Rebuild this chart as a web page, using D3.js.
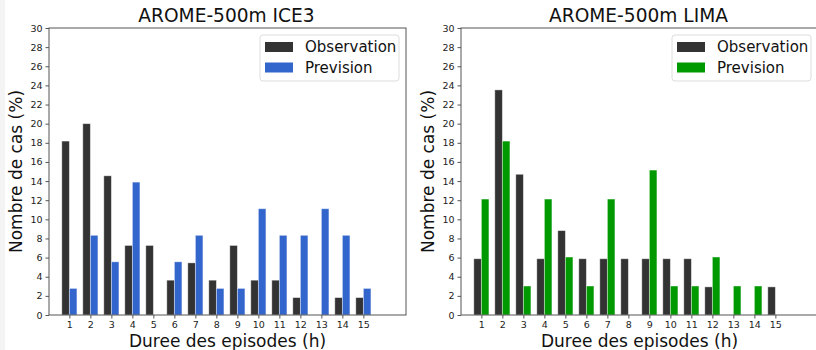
<!DOCTYPE html>
<html>
<head>
<meta charset="utf-8">
<script src="https://cdn.jsdelivr.net/npm/d3@7"></script>
<style>
  body { margin: 0; background: #fff; }
  svg { display: block; font-family: "DejaVu Sans", sans-serif; }
</style>
</head>
<body>
<svg id="chart" width="816" height="350"></svg>
<script>
// --- data ---
const durations = [1, 2, 3, 4, 5, 6, 7, 8, 9, 10, 11, 12, 13, 14, 15];
const yTicks = [0, 2, 4, 6, 8, 10, 12, 14, 16, 18, 20, 22, 24, 26, 28, 30];

const obsIce3 = [18.18, 20.0, 14.55, 7.27, 7.27, 3.64, 5.45, 3.64, 7.27, 3.64, 3.64, 1.82, 0, 1.82, 1.82];
const prevIce3 = [2.78, 8.33, 5.56, 13.89, 0, 5.56, 8.33, 2.78, 2.78, 11.11, 8.33, 8.33, 11.11, 8.33, 2.78];

const obsLima = [5.88, 23.53, 14.71, 5.88, 8.82, 5.88, 5.88, 5.88, 5.88, 5.88, 5.88, 2.94, 0, 0, 2.94];
const prevLima = [12.12, 18.18, 3.03, 12.12, 6.06, 3.03, 12.12, 0, 15.15, 3.03, 3.03, 6.06, 3.03, 3.03, 0];

const panels = [
    { title: 'AROME-500m ICE3', obs: obsIce3, prev: prevIce3, color: '#3366cc', left: 49 },
    { title: 'AROME-500m LIMA', obs: obsLima, prev: prevLima, color: '#009900', left: 461 }
];

const svg = d3.select('#chart');
// thin grey strip at the far left of the figure
svg.append('rect').attr('x', 0).attr('y', 0).attr('width', 5).attr('height', 350).attr('fill', '#f4f4f4');

const plotW = 357, plotTop = 28, plotBottom = 315;
const barW = 0.36;

panels.forEach(p => {
    const g = svg.append('g');
    const x = d3.scaleLinear().domain([0.03, 17.03]).range([p.left, p.left + plotW]);
    const y = d3.scaleLinear().domain([0, 30]).range([plotBottom, plotTop]);

    // bars
    g.append('g').selectAll('rect')
        .data(durations.map((d, i) => ({ d, v: p.obs[i] })).filter(e => e.v > 0))
        .join('rect')
        .attr('x', e => x(e.d - barW))
        .attr('width', e => x(e.d) - x(e.d - barW))
        .attr('y', e => y(e.v))
        .attr('height', e => y(0) - y(e.v))
        .attr('fill', '#333333')
        .attr('stroke', '#ffffff').attr('stroke-opacity', 0.5).attr('stroke-width', 0.8);

    g.append('g').selectAll('rect')
        .data(durations.map((d, i) => ({ d, v: p.prev[i] })).filter(e => e.v > 0))
        .join('rect')
        .attr('x', e => x(e.d))
        .attr('width', e => x(e.d + barW) - x(e.d))
        .attr('y', e => y(e.v))
        .attr('height', e => y(0) - y(e.v))
        .attr('fill', p.color)
        .attr('stroke', '#ffffff').attr('stroke-opacity', 0.5).attr('stroke-width', 0.8);

    // frame
    g.append('rect')
        .attr('x', p.left).attr('y', plotTop)
        .attr('width', plotW).attr('height', plotBottom - plotTop)
        .attr('fill', 'none').attr('stroke', '#555').attr('stroke-width', 1);

    // axes
    const xAxis = g.append('g')
        .attr('transform', `translate(0,${plotBottom})`)
        .call(d3.axisBottom(x).tickValues(durations).tickSize(3.5).tickSizeOuter(0).tickPadding(3));
    const yAxis = g.append('g')
        .attr('transform', `translate(${p.left},0)`)
        .call(d3.axisLeft(y).tickValues(yTicks).tickSize(3.5).tickSizeOuter(0).tickPadding(3));
    [xAxis, yAxis].forEach(a => {
        a.select('.domain').remove();
        a.selectAll('line').attr('stroke', '#555');
        a.selectAll('text').attr('font-size', 9.5).attr('fill', '#222')
            .attr('font-family', '"DejaVu Sans", sans-serif');
    });

    // title and labels
    g.append('text')
        .attr('x', p.left + plotW / 2 - 1).attr('y', 22)
        .attr('text-anchor', 'middle').attr('font-size', 18.6).attr('fill', '#111')
        .text(p.title);
    g.append('text')
        .attr('x', p.left + plotW / 2).attr('y', 347)
        .attr('text-anchor', 'middle').attr('font-size', 17).attr('fill', '#111')
        .text('Duree des episodes (h)');
    g.append('text')
        .attr('transform', `translate(${p.left - 27},${(plotTop + plotBottom) / 2}) rotate(-90)`)
        .attr('text-anchor', 'middle').attr('font-size', 17).attr('fill', '#111')
        .text('Nombre de cas (%)');

    // legend
    const lx = p.left + plotW - 7 - 139;
    const leg = g.append('g').attr('transform', `translate(${lx},35)`);
    leg.append('rect')
        .attr('width', 139).attr('height', 46).attr('rx', 3)
        .attr('fill', '#fff').attr('fill-opacity', 0.8)
        .attr('stroke', '#ddd');
    [{ label: 'Observation', c: '#333333' }, { label: 'Prevision', c: p.color }].forEach((it, i) => {
        leg.append('rect')
            .attr('x', 5).attr('y', 7 + i * 20.5)
            .attr('width', 28).attr('height', 10)
            .attr('fill', it.c);
        leg.append('text')
            .attr('x', 45).attr('y', 17 + i * 20.5)
            .attr('font-size', 15).attr('fill', '#111')
            .text(it.label);
    });
});
</script>
</body>
</html>
